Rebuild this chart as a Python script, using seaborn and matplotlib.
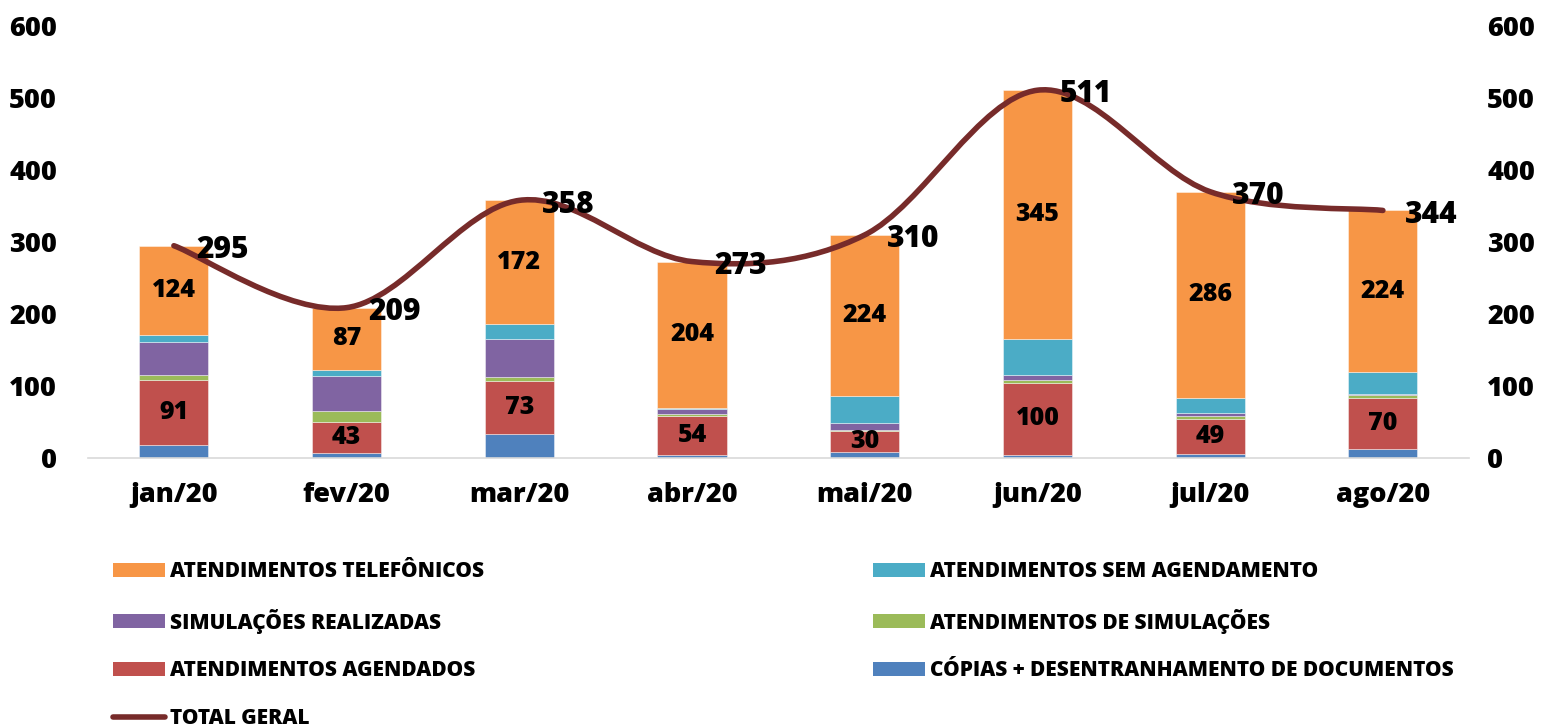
import numpy as np
import pandas as pd
import matplotlib
matplotlib.use("Agg")
import matplotlib.pyplot as plt
from matplotlib.path import Path
from matplotlib.patches import PathPatch, Patch
from matplotlib.lines import Line2D
import seaborn as sns

months = ["jan/20", "fev/20", "mar/20", "abr/20", "mai/20", "jun/20", "jul/20", "ago/20"]
copias = [18, 7, 34, 5, 8, 5, 6, 13]
agendados = [91, 43, 73, 54, 30, 100, 49, 70]
atend_simul = [7, 16, 6, 2, 1, 4, 3, 4]
simul_realiz = [45, 48, 53, 7, 10, 7, 4, 2]
sem_agend = [10, 8, 20, 1, 37, 50, 22, 31]
telefonicos = [124, 87, 172, 204, 224, 345, 286, 224]
total = [295, 209, 358, 273, 310, 511, 370, 344]

series_names = ["CÓPIAS + DESENTRANHAMENTO DE DOCUMENTOS", "ATENDIMENTOS AGENDADOS",
                "ATENDIMENTOS DE SIMULAÇÕES", "SIMULAÇÕES REALIZADAS",
                "ATENDIMENTOS SEM AGENDAMENTO", "ATENDIMENTOS TELEFÔNICOS"]
series_vals = [copias, agendados, atend_simul, simul_realiz, sem_agend, telefonicos]
colors = ["#4F81BD", "#C0504D", "#9BBB59", "#8064A2", "#4BACC6", "#F79646"]
line_color = "#772B2A"
labelled = {"ATENDIMENTOS AGENDADOS", "ATENDIMENTOS TELEFÔNICOS"}

sns.set_theme(style="white")
plt.rcParams["font.family"] = ["Open Sans", "DejaVu Sans"]
plt.rcParams["font.weight"] = "bold"
plt.rcParams["text.color"] = "black"
plt.rcParams["xtick.color"] = "black"
plt.rcParams["ytick.color"] = "black"
plt.rcParams["axes.labelcolor"] = "black"

W = "heavy"

fig = plt.figure(figsize=(15.49, 7.26), dpi=100)
ax = fig.add_axes([0.0565, 0.369, 0.892, 0.595])

df = pd.DataFrame({"month": months})
bottom = np.zeros(len(months))
for name, vals, c in zip(series_names, series_vals, colors):
    df["v"] = vals
    sns.barplot(data=df, x="month", y="v", color=c, width=0.40, bottom=bottom.copy(),
                ax=ax, edgecolor=(1, 1, 1, 0.5), linewidth=0.6, saturation=1)
    if name in labelled:
        for i, v in enumerate(vals):
            ax.text(i, bottom[i] + v / 2, str(v), ha="center", va="center",
                    fontsize=18, fontweight=W, color="black")
    bottom += np.array(vals)

# smoothed total line (Catmull-Rom -> Bezier)
xs = np.arange(len(total), dtype=float)
ys = np.array(total, dtype=float)
pts = np.column_stack([xs, ys])
verts = [tuple(pts[0])]
codes = [Path.MOVETO]
n = len(pts)
for i in range(n - 1):
    p0 = pts[i - 1] if i > 0 else pts[i]
    p1 = pts[i]
    p2 = pts[i + 1]
    p3 = pts[i + 2] if i + 2 < n else pts[i + 1]
    c1 = p1 + (p2 - p0) / 6.0
    c2 = p2 - (p3 - p1) / 6.0
    verts += [tuple(c1), tuple(c2), tuple(p2)]
    codes += [Path.CURVE4, Path.CURVE4, Path.CURVE4]
ax.add_patch(PathPatch(Path(verts, codes), facecolor="none", edgecolor=line_color,
                       linewidth=4, capstyle="round", zorder=5))
for i, t in enumerate(total):
    ax.annotate(str(t), (i, t), xytext=(16, -3), textcoords="offset points",
                ha="left", va="center", fontsize=21.5, fontweight=W, color="black", zorder=6)

ax.set_xlim(-0.5, len(months) - 0.5)
ax.set_ylim(0, 600)
ax.set_yticks(range(0, 601, 100))
ax.set_xlabel("")
ax.set_ylabel("")
ax.tick_params(axis="y", length=0, pad=22, labelsize=19.5)
ax.tick_params(axis="x", length=0, pad=17, labelsize=19.5)
for lab in ax.get_xticklabels() + ax.get_yticklabels():
    lab.set_fontweight(W)
for s in ["left", "right", "top"]:
    ax.spines[s].set_visible(False)
ax.spines["bottom"].set_color("#D9D9D9")
ax.spines["bottom"].set_linewidth(1.2)

ax2 = ax.twinx()
ax2.set_ylim(0, 600)
ax2.set_yticks(range(0, 601, 100))
ax2.tick_params(axis="y", length=0, pad=13, labelsize=19.5)
for lab in ax2.get_yticklabels():
    lab.set_fontweight(W)
for s in ["left", "right", "top", "bottom"]:
    ax2.spines[s].set_visible(False)
ax2.grid(False)
ax.grid(False)

def patch(c):
    return Patch(facecolor=c, edgecolor="none")

leg_kw = dict(frameon=False, handlelength=2.5, handleheight=0.65,
              handletextpad=0.25, labelspacing=1.28, borderpad=0, borderaxespad=0,
              loc="upper left", prop={"weight": W, "size": 15})
h1 = [patch(colors[5]), patch(colors[3]), patch(colors[1]),
      Line2D([0], [0], color=line_color, linewidth=4, solid_capstyle="round")]
l1 = [series_names[5], series_names[3], series_names[1], "TOTAL GERAL"]
h2 = [patch(colors[4]), patch(colors[2]), patch(colors[0])]
l2 = [series_names[4], series_names[2], series_names[0]]
leg1 = fig.legend(h1, l1, bbox_to_anchor=(113 / 1549, 1 - 561 / 726), **leg_kw)
leg2 = fig.legend(h2, l2, bbox_to_anchor=(873 / 1549, 1 - 561 / 726), **leg_kw)

fig.savefig("out.png", dpi=100)
